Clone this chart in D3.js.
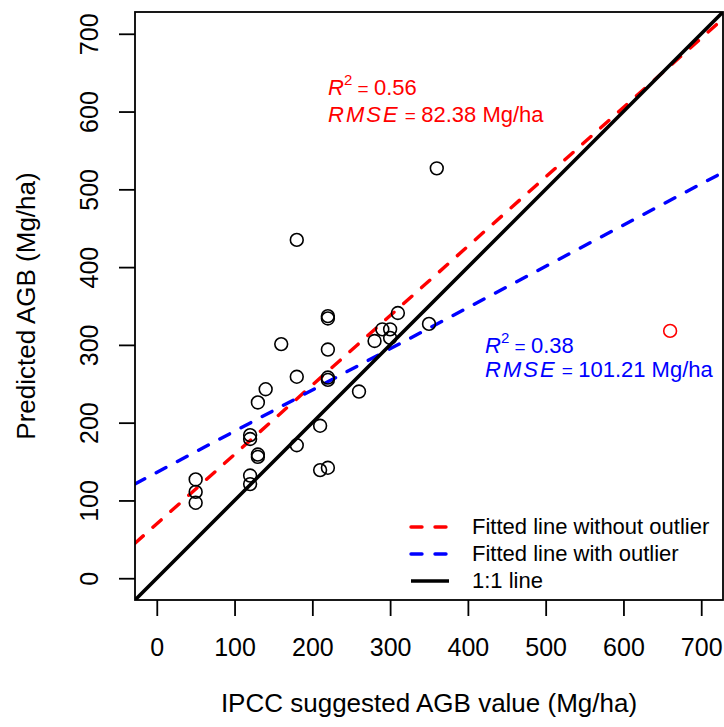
<!DOCTYPE html>
<html><head><meta charset="utf-8">
<script src="https://cdn.jsdelivr.net/npm/d3@7"></script>
<style>body{margin:0;background:#fff}svg{display:block}text{font-family:"Liberation Sans",Arial,sans-serif}</style>
</head><body>
<script>
// Data
const ipcc      = [360,180,220,220,310,350,290,300,300,280,160,220,180,220,220,140,130,260,210,120,120,180,130,130,210,220,120,120,50,50,50];
const predicted = [527,435,337,334,341,327,320,320,309,305,301,294,259,258,255,243,226,240,196,184,179,171,159,156,139,142,132,121,127,111,97];
const outlierX = [660];
const outlierY = [318];
const fitNames      = ["Fitted line without outlier","Fitted line with outlier","1:1 line"];
const fitIntercepts = [70, 136, 0];
const fitSlopes     = [0.892, 0.530, 1];
const fitColors     = ["#ff0000","#0000ff","#000000"];
const fitDashed     = [true, true, false];
const xTicks = [0,100,200,300,400,500,600,700];
const yTicks = [0,100,200,300,400,500,600,700];
const statsR2   = ["0.56","0.38"];
const statsRMSE = ["82.38","101.21"];

const W=724,H=727;
const L=135,R=723,T=12,B=600;
const x=d3.scaleLinear().domain([-28,728]).range([L,R]);
const y=d3.scaleLinear().domain([-28,728]).range([B,T]);

const svg=d3.select("body").append("svg").attr("width",W).attr("height",H);
svg.append("defs").append("clipPath").attr("id","clip")
  .append("rect").attr("x",L).attr("y",T).attr("width",R-L).attr("height",B-T);

// fitted lines
const plot=svg.append("g").attr("clip-path","url(#clip)");
const xd=x.domain();
fitNames.forEach((n,i)=>{
  plot.append("line")
    .attr("x1",x(xd[0])).attr("y1",y(fitIntercepts[i]+fitSlopes[i]*xd[0]))
    .attr("x2",x(xd[1])).attr("y2",y(fitIntercepts[i]+fitSlopes[i]*xd[1]))
    .attr("stroke",fitColors[i]).attr("stroke-width",fitDashed[i]?3.4:3.6)
    .attr("stroke-linecap","round")
    .attr("stroke-dasharray",fitDashed[i]?"11,13":null);
});

// points
plot.selectAll("circle.pt").data(ipcc.map((v,i)=>[v,predicted[i]])).join("circle")
  .attr("class","pt").attr("cx",d=>x(d[0])).attr("cy",d=>y(d[1])).attr("r",6.4)
  .attr("fill","none").attr("stroke","#000").attr("stroke-width",1.6);
plot.selectAll("circle.out").data(outlierX.map((v,i)=>[v,outlierY[i]])).join("circle")
  .attr("class","out").attr("cx",d=>x(d[0])).attr("cy",d=>y(d[1])).attr("r",6.4)
  .attr("fill","none").attr("stroke","#ff0000").attr("stroke-width",1.6);

// frame
svg.append("rect").attr("x",L).attr("y",T).attr("width",R-L).attr("height",B-T)
  .attr("fill","none").attr("stroke","#000").attr("stroke-width",1.8);

// axes
const xAxis=svg.append("g").attr("transform",`translate(0,${B})`)
  .call(d3.axisBottom(x).tickValues(xTicks).tickSize(16).tickPadding(22));
xAxis.select(".domain").remove();
xAxis.selectAll("line").attr("stroke-width",1.8);
xAxis.selectAll("text").attr("font-size",25).attr("fill","#000").attr("font-family","Liberation Sans, Arial, sans-serif");

const yAxis=svg.append("g").attr("transform",`translate(${L},0)`)
  .call(d3.axisLeft(y).tickValues(yTicks).tickSize(16));
yAxis.select(".domain").remove();
yAxis.selectAll("line").attr("stroke-width",1.8);
yAxis.selectAll("text").attr("x",null).attr("dy",null)
  .attr("transform","translate(-37,0) rotate(-90)")
  .attr("text-anchor","middle").attr("font-size",25).attr("fill","#000")
  .attr("font-family","Liberation Sans, Arial, sans-serif");

// axis titles
svg.append("text").attr("x",(L+R)/2).attr("y",712).attr("text-anchor","middle")
  .attr("font-size",26).text("IPCC suggested AGB value (Mg/ha)");
svg.append("text").attr("transform",`translate(35,${(T+B)/2}) rotate(-90)`).attr("text-anchor","middle")
  .attr("font-size",26).text("Predicted AGB (Mg/ha)");

// stats annotations
const ann=[{x:328,y1:95,y2:122,c:"#ff0000"},{x:485,y1:353,y2:377,c:"#0000ff"}];
ann.forEach((a,i)=>{
  const t1=svg.append("text").attr("x",a.x).attr("y",a.y1).attr("fill",a.c).attr("font-size",22);
  t1.append("tspan").attr("font-style","italic").text("R");
  t1.append("tspan").attr("font-size",15).attr("dy",-10).text("2");
  t1.append("tspan").attr("dy",10).attr("font-size",19).text(" = ");
  t1.append("tspan").text(statsR2[i]);
  const t2=svg.append("text").attr("x",a.x).attr("y",a.y2).attr("fill",a.c).attr("font-size",22);
  t2.append("tspan").attr("font-style","italic").attr("letter-spacing",2).text("RMSE");
  t2.append("tspan").attr("font-size",19).text(" = ");
  t2.append("tspan").text(statsRMSE[i]+" Mg/ha");
});

// legend
const legY=[527,554,581];
fitNames.forEach((n,i)=>{
  svg.append("line").attr("x1",411).attr("x2",449).attr("y1",legY[i]).attr("y2",legY[i])
    .attr("stroke",fitColors[i]).attr("stroke-width",3.4).attr("stroke-linecap",fitDashed[i]?"round":"butt")
    .attr("stroke-dasharray",fitDashed[i]?"11,13":null);
  svg.append("text").attr("x",472).attr("y",legY[i]).attr("dy","0.33em")
    .attr("font-size",22).attr("fill","#000").text(n);
});
</script>
</body></html>
